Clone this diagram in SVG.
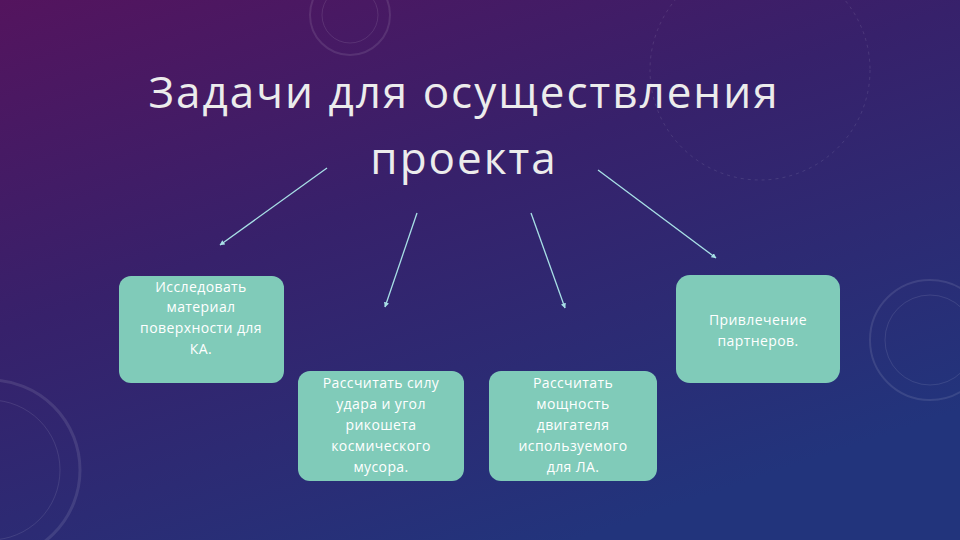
<svg xmlns="http://www.w3.org/2000/svg" width="960" height="540" viewBox="0 0 960 540">
<defs>
<linearGradient id="bg" x1="0" y1="0" x2="0.6" y2="1">
<stop offset="0" stop-color="#54145e"/>
<stop offset="0.45" stop-color="#37216b"/>
<stop offset="1" stop-color="#22347c"/>
</linearGradient>
<marker id="ah" viewBox="0 0 10 10" refX="9" refY="5" markerWidth="4" markerHeight="4" orient="auto">
<path d="M0,0 L10,5 L0,10 z" fill="#a8e0e6"/>
</marker>
<style>
.box{fill:#80cbb9}
.t{font-family:"Open Sans","Liberation Sans",sans-serif;font-size:14px;fill:#ffffff;text-anchor:middle;letter-spacing:0.4px}
.c{stroke:#a8e0e6;stroke-width:1.3;fill:none;marker-end:url(#ah)}
.deco{fill:none;stroke:#ffffff;stroke-opacity:0.1}
.h{font-family:"Open Sans","Liberation Sans",sans-serif;font-size:44px;fill:#ececec;text-anchor:middle;letter-spacing:2px}
</style>
</defs>
<rect width="960" height="540" fill="url(#bg)"/>
<circle class="deco" cx="350" cy="15" r="40" stroke-width="2"/>
<circle class="deco" cx="350" cy="15" r="28"/>
<circle class="deco" cx="-10" cy="470" r="90" stroke-width="3"/>
<circle class="deco" cx="-10" cy="470" r="70"/>
<circle class="deco" cx="760" cy="70" r="110" stroke-dasharray="3 4"/>
<circle class="deco" cx="930" cy="340" r="60" stroke-width="2"/>
<circle class="deco" cx="930" cy="340" r="45"/>
<text class="h" x="464" y="108">Задачи для осуществления</text>
<text class="h" x="464" y="174">проекта</text>
<g id="connectors">
<line class="c" x1="327" y1="168" x2="220" y2="245"/>
<line class="c" x1="417" y1="213" x2="385" y2="307"/>
<line class="c" x1="531" y1="213" x2="565" y2="308"/>
<line class="c" x1="598" y1="170" x2="716" y2="258"/>
</g>
<g id="n1">
<rect class="box" x="119" y="276" width="165" height="107" rx="12"/>
<text class="t" x="201" y="292">Исследовать</text>
<text class="t" x="201" y="312">материал</text>
<text class="t" x="201" y="333">поверхности для</text>
<text class="t" x="201" y="354">КА.</text>
</g>
<g id="n2">
<rect class="box" x="298" y="371" width="166" height="110" rx="12"/>
<text class="t" x="381" y="388">Рассчитать силу</text>
<text class="t" x="381" y="409">удара и угол</text>
<text class="t" x="381" y="430">рикошета</text>
<text class="t" x="381" y="451">космического</text>
<text class="t" x="381" y="472">мусора.</text>
</g>
<g id="n3">
<rect class="box" x="489" y="371" width="168" height="110" rx="12"/>
<text class="t" x="573" y="388">Рассчитать</text>
<text class="t" x="573" y="409">мощность</text>
<text class="t" x="573" y="430">двигателя</text>
<text class="t" x="573" y="451">используемого</text>
<text class="t" x="573" y="472">для ЛА.</text>
</g>
<g id="n4">
<rect class="box" x="676" y="275" width="164" height="108" rx="14"/>
<text class="t" x="758" y="325">Привлечение</text>
<text class="t" x="758" y="346">партнеров.</text>
</g>
</svg>
